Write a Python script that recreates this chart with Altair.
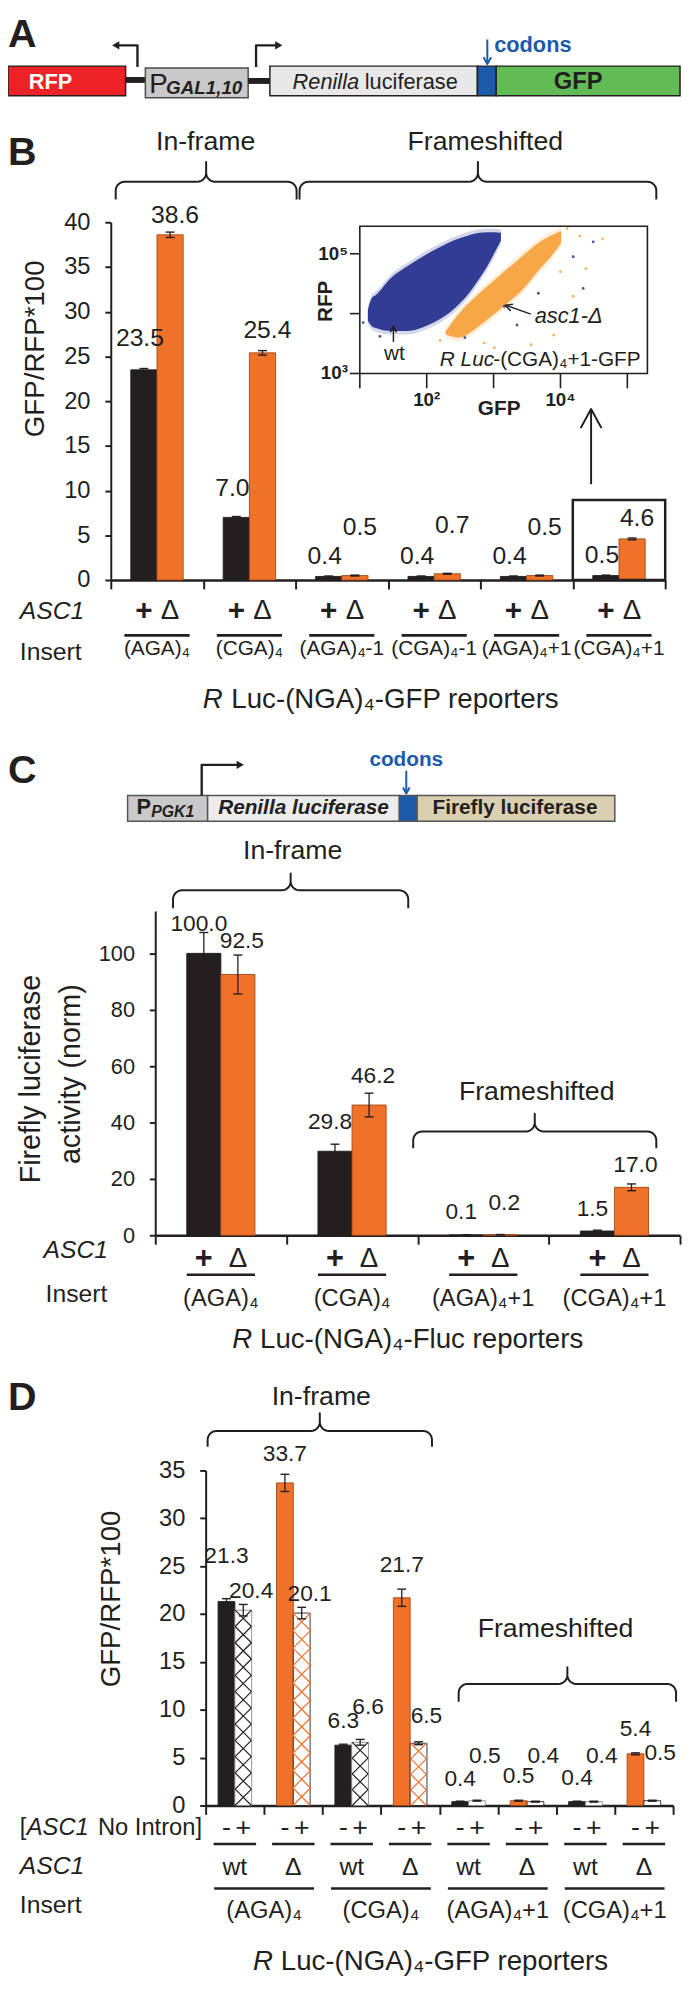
import math
import altair as alt
import numpy as np
import pandas as pd

FONT = "Liberation Sans"
INK = "#231f20"
ORANGE = "#f07128"
ORANGE_EDGE = "#a14a1a"
CODON_BLUE = "#1b5aa9"
FLOW_BLUE = "#28358f"
FLOW_ORANGE = "#f8a33f"

# ------------------------------------------------------------------ data
# Panel B : R Luc-(NGA)4-GFP reporters, GFP/RFP*100
b_inserts = ["(AGA)₄", "(CGA)₄", "(AGA)₄-1", "(CGA)₄-1", "(AGA)₄+1", "(CGA)₄+1"]
b_wt = [23.5, 7.0, 0.4, 0.4, 0.4, 0.5]
b_del = [38.6, 25.4, 0.5, 0.7, 0.5, 4.6]
b_wt_err = [0.15, 0.1, 0.05, 0.05, 0.05, 0.05]
b_del_err = [0.3, 0.25, 0.05, 0.05, 0.05, 0.1]
b_ticks = [0, 5, 10, 15, 20, 25, 30, 35, 40]

# Panel B inset : flow cytometry of R Luc-(CGA)4+1-GFP (log10 units)
flow_x_domain = [1.0, 5.3]
flow_y_domain = [3.0, 5.46]
flow_wt_x = [1.12, 1.18, 1.24, 1.46, 1.72, 1.98, 2.23, 2.42, 2.61, 2.79, 2.91, 3.02, 3.11]
flow_wt_hi = [4.05, 4.26, 4.31, 4.59, 4.80, 4.98, 5.13, 5.23, 5.30, 5.35, 5.36, 5.36, 5.35]
flow_wt_lo = [3.88, 3.79, 3.76, 3.71, 3.71, 3.79, 3.93, 4.09, 4.31, 4.59, 4.80, 5.03, 5.22]
flow_del_x = [2.28, 2.34, 2.49, 2.71, 2.94, 3.20, 3.45, 3.67, 3.87, 4.01]
flow_del_hi = [3.70, 3.79, 4.01, 4.26, 4.49, 4.74, 4.98, 5.18, 5.31, 5.38]
flow_del_lo = [3.66, 3.63, 3.60, 3.73, 3.93, 4.17, 4.42, 4.72, 4.97, 5.18]
flow_wt_sparse_x = [4.19, 4.49, 3.16, 3.35, 4.34, 2.57, 3.67, 1.05, 1.30]
flow_wt_sparse_y = [4.95, 5.20, 4.12, 3.81, 4.42, 3.60, 4.34, 3.85, 3.62]
flow_del_sparse_x = [2.86, 4.19, 4.38, 3.90, 4.29, 3.56, 4.00, 4.63, 3.30, 3.01, 2.20, 4.10]
flow_del_sparse_y = [3.51, 4.29, 4.75, 3.64, 5.30, 3.48, 4.70, 5.25, 3.35, 3.43, 3.55, 5.42]
flow_x_ticks = [1, 2, 3, 4, 5]
flow_x_labels = ["", "10²", "", "10⁴", ""]
flow_y_ticks = [3, 4, 5]
flow_y_labels = ["10³", "", "10⁵"]

# Panel C : R Luc-(NGA)4-Fluc reporters, Firefly luciferase activity (norm)
c_inserts = ["(AGA)₄", "(CGA)₄", "(AGA)₄+1", "(CGA)₄+1"]
c_wt = [100.0, 29.8, 0.1, 1.5]
c_del = [92.5, 46.2, 0.2, 17.0]
c_wt_err = [7.4, 2.5, 0.05, 0.3]
c_del_err = [6.9, 4.2, 0.05, 1.2]
c_ticks = [0, 20, 40, 60, 80, 100]

# Panel D : [ASC1 No Intron] complementation, GFP/RFP*100
d_asc1 = ["wt", "Δ", "wt", "Δ", "wt", "Δ", "wt", "Δ"]
d_inserts = ["(AGA)₄", "(CGA)₄", "(AGA)₄+1", "(CGA)₄+1"]
d_minus = [21.3, 33.7, 6.3, 21.7, 0.4, 0.5, 0.4, 5.4]
d_plus = [20.4, 20.1, 6.6, 6.5, 0.5, 0.4, 0.4, 0.5]
d_minus_err = [0.3, 0.9, 0.1, 0.9, 0.05, 0.05, 0.05, 0.1]
d_plus_err = [0.6, 0.6, 0.3, 0.15, 0.05, 0.05, 0.05, 0.05]
d_ticks = [0, 5, 10, 15, 20, 25, 30, 35]

# ------------------------------------------------------------------ layout (reference page pixels)
PAGE = 8
W, H = 682, 1990
B_BOX = (112, 673, 213, 575)     # left, right, top, bottom of the axis frame
C_BOX = (157, 688, 910, 1238)
D_BOX = (208, 681, 1476, 1815)
B_BAR, C_BAR, D_BAR = 26.5, 34.5, 17.0          # bar widths in px
# label nudges (px above bar top)
b_lift = [32, 30, 21, 21, 21, 21] + [20, 23, 49, 49, 49, 21]
c_lift = [30, 30, 23, 22] + [34, 29, 32, 23]
d_lift = [46, 29, 24, 33, 23, 25, 24, 25] + [19, 19, 36, 27, 45, 46, 46, 48]
X_PATH = "M-1,-1L1,1M1,-1L-1,1"


def gx(v):
    return v - PAGE


def gy(v):
    return v - PAGE


# ------------------------------------------------------------------ helpers (annotation drawing)
def PX():
    return alt.X("x:Q", scale=None)


def PY():
    return alt.Y("y:Q", scale=None)


def T(x, y, s, size=24, weight="normal", style="normal", align="center",
      angle=None, color=INK, baseline="middle"):
    d = pd.DataFrame({"x": [gx(x)], "y": [gy(y)], "t": [s]})
    kw = dict(align=align, baseline=baseline, fontSize=size, fontWeight=weight,
              fontStyle=style, color=color, font=FONT)
    if angle is not None:
        kw["angle"] = angle
    return alt.Chart(d).mark_text(**kw).encode(x=PX(), y=PY(), text="t:N")


def P(pts, width=2.0, color=INK):
    d = pd.DataFrame({"x": [gx(p[0]) for p in pts], "y": [gy(p[1]) for p in pts],
                      "i": list(range(len(pts)))})
    return alt.Chart(d).mark_line(strokeWidth=width, color=color, strokeJoin="round").encode(
        x=PX(), y=PY(), order="i:Q")


def R(x0, y0, x1, y1, fill, stroke=INK, sw=1.5):
    d = pd.DataFrame({"x": [gx(x0)], "x2": [gx(x1)], "y": [gy(y0)], "y2": [gy(y1)]})
    kw = dict(fill=fill)
    if sw:
        kw.update(stroke=stroke, strokeWidth=sw)
    return alt.Chart(d).mark_rect(**kw).encode(x=PX(), x2="x2:Q", y=PY(), y2="y2:Q")


def TRI(x, y, shape, size=70, color=INK):
    d = pd.DataFrame({"x": [gx(x)], "y": [gy(y)]})
    return alt.Chart(d).mark_point(shape=shape, size=size, filled=True, color=color,
                                   opacity=1).encode(x=PX(), y=PY())


def VH(tip, toward, length=9, half=0.5, width=2.0, color=INK):
    dx, dy = toward[0] - tip[0], toward[1] - tip[1]
    n = math.hypot(dx, dy)
    ux, uy = dx / n, dy / n
    arms = []
    for s in (half, -half):
        rx = ux * math.cos(s) - uy * math.sin(s)
        ry = ux * math.sin(s) + uy * math.cos(s)
        arms.append((tip[0] + length * rx, tip[1] + length * ry))
    return P([arms[0], tip, arms[1]], width, color)


def BRACE(x0, x1, yp, yh, ye, r=9, width=2.0):
    xc = (x0 + x1) / 2
    pts = [(x0, ye)]
    for t in np.linspace(np.pi, 1.5 * np.pi, 8):
        pts.append((x0 + r + r * np.cos(t), yh + r + r * np.sin(t)))
    for t in np.linspace(0.5 * np.pi, 0, 8):
        pts.append((xc - r + r * np.cos(t), yh - r + r * np.sin(t)))
    pts.append((xc, yp))
    for t in np.linspace(np.pi, 0.5 * np.pi, 8):
        pts.append((xc + r + r * np.cos(t), yh - r + r * np.sin(t)))
    for t in np.linspace(1.5 * np.pi, 2 * np.pi, 8):
        pts.append((x1 - r + r * np.cos(t), yh + r + r * np.sin(t)))
    pts.append((x1, ye))
    return P(pts, width)


def TICK(df, field, xs, y, size, thickness=2.6):
    return alt.Chart(df).mark_tick(orient="horizontal", size=size, thickness=thickness,
                                   color=INK, opacity=1).encode(
        x=alt.X(field, scale=xs), y=alt.value(gy(y)))


# ------------------------------------------------------------------ grouped bar machinery
def bar_table(first, second, err1, err2, k1, k2, key, box, bar_px, lift, ymax):
    left, right, top, bottom = box
    n = len(first)
    w = bar_px / ((right - left) / n)
    df = pd.DataFrame({"gi": list(range(n)) * 2, "slot": [0] * n + [1] * n,
                       key: [k1] * n + [k2] * n, "v": first + second, "err": err1 + err2})
    df["x0"] = df["gi"] + 0.5 - w + df["slot"] * w
    df["x1"] = df["x0"] + w
    df["xc"] = (df["x0"] + df["x1"]) / 2
    df["lo"] = df["v"] - df["err"]
    df["hi"] = df["v"] + df["err"]
    df["txt"] = df["v"].map("{:.1f}".format)
    df["ly"] = df["v"] + np.array(lift) * ymax / (bottom - top)
    return df


def scales(box, n, ymax):
    left, right, top, bottom = box
    xs = alt.Scale(domain=[0, n], range=[gx(left), gx(right)], nice=False, zero=False)
    ys = alt.Scale(domain=[0, ymax], range=[gy(bottom), gy(top)], nice=False, zero=True)
    return xs, ys


def grouped(df, box, xs, ys, yvals, ysize, label_size, dx1, dx2, key, k1):
    left, right, top, bottom = box
    n = int(xs.domain[1])
    base = alt.Chart(df)
    xax = alt.Axis(orient="bottom", offset=-(H - gy(bottom)), values=list(range(n + 1)),
                   labels=False, title=None, grid=False, tickSize=9, tickWidth=2,
                   domainWidth=2.6, domainColor=INK, tickColor=INK)
    yax = alt.Axis(orient="left", offset=-gx(left), values=yvals, format="d", title=None,
                   grid=False, tickSize=6, tickWidth=2, domainWidth=2, labelFontSize=ysize,
                   labelPadding=15, labelColor=INK, labelFont=FONT, domainColor=INK,
                   tickColor=INK)
    bars = base.mark_bar(strokeWidth=0.9).encode(
        x=alt.X("x0:Q", scale=xs, axis=xax), x2="x1:Q",
        y=alt.Y("v:Q", scale=ys, axis=yax), y2=alt.datum(0),
        fill=alt.Fill("fc:N", scale=None), stroke=alt.Stroke("sc:N", scale=None))
    err = base.mark_rule(color=INK, strokeWidth=1.3).encode(
        x=alt.X("xc:Q", scale=xs), y=alt.Y("lo:Q", scale=ys), y2="hi:Q")
    cap_hi = base.mark_tick(orient="horizontal", size=9, thickness=1.4, color=INK, opacity=1).encode(
        x=alt.X("xc:Q", scale=xs), y=alt.Y("hi:Q", scale=ys))
    cap_lo = base.mark_tick(orient="horizontal", size=9, thickness=1.4, color=INK, opacity=1).encode(
        x=alt.X("xc:Q", scale=xs), y=alt.Y("lo:Q", scale=ys))
    lab1 = base.transform_filter(alt.datum[key] == k1).mark_text(
        fontSize=label_size, dx=dx1, font=FONT, color=INK, baseline="middle").encode(
        x=alt.X("xc:Q", scale=xs), y=alt.Y("ly:Q", scale=ys), text="txt:N")
    lab2 = base.transform_filter(alt.datum[key] != k1).mark_text(
        fontSize=label_size, dx=dx2, font=FONT, color=INK, baseline="middle").encode(
        x=alt.X("xc:Q", scale=xs), y=alt.Y("ly:Q", scale=ys), text="txt:N")
    return bars, [err, cap_hi, cap_lo, lab1, lab2]


# ------------------------------------------------------------------ panel A (construct schematic)
panelA = alt.layer(
    T(8, 24, "A", 40, "bold", align="left"),
    R(8, 55, 127, 85, "#ec2227"),
    R(127, 66, 147, 72, INK, sw=0),
    R(147, 57, 251, 87, "#c9c9c9", stroke="#4d4d4d"),
    R(251, 67, 273, 73, INK, sw=0),
    R(273, 55, 483, 85, "#e8e8e8"),
    R(483, 55, 502, 85, CODON_BLUE),
    R(502, 55, 688, 85, "#62bb55"),
    T(51, 71, "RFP", 22, "bold", color="white"),
    T(151, 82, "P", 28, align="left", baseline="alphabetic"),
    T(168, 83, "GAL1,10", 19, "bold", "italic", align="left", baseline="alphabetic"),
    T(296, 71, "Renilla", 22, style="italic", align="left"),
    T(369, 71, "luciferase", 22, align="left"),
    T(585, 71, "GFP", 24, "bold"),
    T(500, 34, "codons", 22, "bold", color=CODON_BLUE, align="left"),
    P([(139, 56), (139, 34), (119, 34)], 2.4),
    TRI(117, 34, "triangle-left"),
    P([(259, 56), (259, 34), (279, 34)], 2.4),
    TRI(282, 34, "triangle-right"),
    P([(493, 28), (493, 52)], 2.0, CODON_BLUE),
    VH((493, 53), (493, 40), 8, 0.5, 2.0, CODON_BLUE),
)

# ------------------------------------------------------------------ panel B
nB = len(b_inserts)
dfB = bar_table(b_wt, b_del, b_wt_err, b_del_err, "+", "Δ", "geno", B_BOX, B_BAR, b_lift, 40)
dfB["fc"] = np.where(dfB["geno"] == "+", INK, ORANGE)
dfB["sc"] = np.where(dfB["geno"] == "+", INK, ORANGE_EDGE)
xsB, ysB = scales(B_BOX, nB, 40)
barsB, restB = grouped(dfB, B_BOX, xsB, ysB, b_ticks, 24, 25, -4, 5, "geno", "+")

dfBG = pd.DataFrame({"gi": list(range(nB)), "ins": b_inserts})
dfBG["gc"] = dfBG["gi"] + 0.5
dfBG["g1"] = dfBG["gi"] + 1
baseB = alt.Chart(dfB)
restB += [
    baseB.transform_filter(alt.datum.geno == "+").mark_text(fontSize=30, fontWeight="bold", font=FONT, color=INK).encode(
        x=alt.X("xc:Q", scale=xsB), y=alt.value(gy(606)), text="geno:N"),
    baseB.transform_filter(alt.datum.geno == "Δ").mark_text(fontSize=28, font=FONT, color=INK).encode(
        x=alt.X("xc:Q", scale=xsB), y=alt.value(gy(606)), text="geno:N"),
    TICK(dfBG, "gc:Q", xsB, 631, 66),
    alt.Chart(dfBG).mark_text(fontSize=21, font=FONT, color=INK).encode(
        x=alt.X("gc:Q", scale=xsB), y=alt.value(gy(645)), text="ins:N"),
    alt.Chart(dfBG).transform_filter(alt.datum.gi == nB - 1).mark_rect(
        fillOpacity=0, stroke=INK, strokeWidth=2.5).encode(
        x=alt.X("gi:Q", scale=xsB), x2="g1:Q", y=alt.value(gy(494)), y2=alt.value(gy(575))),
    T(8, 143, "B", 40, "bold", align="left"),
    T(208, 132, "In-frame", 27),
    T(491, 132, "Frameshifted", 27),
    BRACE(117, 300, 152, 172, 190),
    BRACE(303, 664, 152, 172, 190),
    T(36, 341, "GFP/RFP*100", 28, angle=270),
    T(20, 606, "ASC1", 25, style="italic", align="left"),
    T(20, 648, "Insert", 25, align="left"),
    T(205, 696, "R", 28, style="italic", align="left"),
    T(234, 696, "Luc-(NGA)₄-GFP reporters", 28, align="left"),
    P([(598, 478), (598, 403)], 2.0),
    VH((598, 402), (598, 430), 22, 0.5, 2.0),
]
mainB = alt.layer(barsB, *restB)

# inset (flow cytometry)
ixs = alt.Scale(domain=flow_x_domain, range=[gx(364), gx(655)], nice=False, zero=False)
iys = alt.Scale(domain=flow_y_domain, range=[gy(366), gy(217)], nice=False, zero=False)
dfFrame = pd.DataFrame({"x0": [flow_x_domain[0]], "x1": [flow_x_domain[1]],
                        "y0": [flow_y_domain[0]], "y1": [flow_y_domain[1]]})
dfCloud = pd.DataFrame({"gx": flow_wt_x + flow_del_x, "hi": flow_wt_hi + flow_del_hi,
                        "lo": flow_wt_lo + flow_del_lo,
                        "cloud": ["wt"] * len(flow_wt_x) + ["asc1"] * len(flow_del_x)})
dfCloud["col"] = np.where(dfCloud["cloud"] == "wt", FLOW_BLUE, FLOW_ORANGE)
dfCloud["hi2"] = dfCloud["hi"] + 0.06
dfCloud["lo2"] = dfCloud["lo"] - 0.06
dfDots = pd.DataFrame({"gx": flow_wt_sparse_x + flow_del_sparse_x,
                       "gy": flow_wt_sparse_y + flow_del_sparse_y,
                       "col": [FLOW_BLUE] * len(flow_wt_sparse_x) + [FLOW_ORANGE] * len(flow_del_sparse_x)})
dfXT = pd.DataFrame({"t": flow_x_ticks, "lab": flow_x_labels})
dfYT = pd.DataFrame({"t": flow_y_ticks, "lab": flow_y_labels})


def IX(f):
    return alt.X(f, scale=ixs, axis=None)


def IY(f):
    return alt.Y(f, scale=iys, axis=None)


insetB = alt.layer(
    alt.Chart(dfFrame).mark_rect(fill="white", stroke=INK, strokeWidth=1.6).encode(
        x=IX("x0:Q"), x2="x1:Q", y=IY("y0:Q"), y2="y1:Q"),
    alt.Chart(dfCloud).mark_area(opacity=0.2, interpolate="monotone").encode(
        x=IX("gx:Q"), y=IY("hi2:Q"), y2="lo2:Q", color=alt.Color("col:N", scale=None), detail="cloud:N"),
    alt.Chart(dfCloud).mark_area(opacity=0.95, interpolate="monotone").encode(
        x=IX("gx:Q"), y=IY("hi:Q"), y2="lo:Q", color=alt.Color("col:N", scale=None), detail="cloud:N"),
    alt.Chart(dfDots).mark_circle(size=8, opacity=0.85).encode(
        x=IX("gx:Q"), y=IY("gy:Q"), color=alt.Color("col:N", scale=None)),
    alt.Chart(dfXT).mark_rule(color=INK, strokeWidth=1.6).encode(
        x=IX("t:Q"), y=alt.value(gy(366)), y2=alt.value(gy(381))),
    alt.Chart(dfYT).mark_rule(color=INK, strokeWidth=1.6).encode(
        y=IY("t:Q"), x=alt.value(gx(354)), x2=alt.value(gx(364))),
    alt.Chart(dfXT).mark_text(fontSize=19, fontWeight="bold", font=FONT, color=INK).encode(
        x=IX("t:Q"), y=alt.value(gy(393)), text="lab:N"),
    alt.Chart(dfYT).mark_text(fontSize=19, fontWeight="bold", font=FONT, color=INK, align="right").encode(
        y=IY("t:Q"), x=alt.value(gx(352)), text="lab:N"),
)

annoInset = alt.layer(
    T(330, 293, "RFP", 21, "bold", angle=270),
    T(505, 402, "GFP", 21, "bold"),
    T(399, 346, "wt", 21),
    P([(398, 334), (398, 319)], 1.5),
    VH((398, 318), (398, 330), 7, 0.45, 1.5),
    T(541, 308, "asc1-Δ", 22, style="italic", align="left"),
    P([(537, 306), (512, 297)], 1.5),
    VH((511, 297), (537, 306), 8, 0.45, 1.5),
    T(445, 352, "R Luc", 21, style="italic", align="left"),
    T(499, 352, "-(CGA)₄+1-GFP", 21, align="left"),
)

# ------------------------------------------------------------------ panel C
nC = len(c_inserts)
dfC = bar_table(c_wt, c_del, c_wt_err, c_del_err, "+", "Δ", "geno", C_BOX, C_BAR, c_lift, 115)
dfC["fc"] = np.where(dfC["geno"] == "+", INK, ORANGE)
dfC["sc"] = np.where(dfC["geno"] == "+", INK, ORANGE_EDGE)
xsC, ysC = scales(C_BOX, nC, 115)
barsC, restC = grouped(dfC, C_BOX, xsC, ysC, c_ticks, 22, 23, -5, 4, "geno", "+")
dfCG = pd.DataFrame({"gi": list(range(nC)), "ins": c_inserts})
dfCG["gc"] = dfCG["gi"] + 0.5
baseC = alt.Chart(dfC)
restC += [
    baseC.transform_filter(alt.datum.geno == "+").mark_text(fontSize=31, fontWeight="bold", font=FONT, color=INK).encode(
        x=alt.X("xc:Q", scale=xsC), y=alt.value(gy(1262)), text="geno:N"),
    baseC.transform_filter(alt.datum.geno == "Δ").mark_text(fontSize=28, font=FONT, color=INK).encode(
        x=alt.X("xc:Q", scale=xsC), y=alt.value(gy(1262)), text="geno:N"),
    TICK(dfCG, "gc:Q", xsC, 1278, 69),
    alt.Chart(dfCG).mark_text(fontSize=24, font=FONT, color=INK).encode(
        x=alt.X("gc:Q", scale=xsC), y=alt.value(gy(1303)), text="ins:N"),
    T(8, 768, "C", 40, "bold", align="left"),
    R(129, 793, 210, 819, "#c9c9c9", stroke="#555555"),
    R(210, 793, 404, 819, "#ececec", stroke="#555555"),
    R(404, 793, 422, 819, CODON_BLUE, stroke="#555555"),
    R(422, 793, 622, 819, "#d9cfb1", stroke="#555555"),
    T(138, 812, "P", 22, "bold", align="left", baseline="alphabetic"),
    T(153, 815, "PGK1", 16, "bold", "italic", align="left", baseline="alphabetic"),
    T(307, 806, "Renilla luciferase", 21, "bold", "italic"),
    T(521, 806, "Firefly luciferase", 21, "bold"),
    P([(204, 793), (204, 762), (240, 762)], 2.4),
    TRI(243, 762, "triangle-right"),
    T(411, 757, "codons", 21, "bold", color=CODON_BLUE),
    P([(411, 768), (411, 790)], 2.0, CODON_BLUE),
    VH((411, 791), (411, 780), 7, 0.5, 2.0, CODON_BLUE),
    T(296, 849, "In-frame", 27),
    BRACE(175, 413, 872, 889, 907),
    T(543, 1093, "Frameshifted", 27),
    BRACE(418, 664, 1115, 1133, 1150),
    T(31, 1080, "Firefly luciferase", 29, angle=270),
    T(72, 1075, "activity (norm)", 29, angle=270),
    T(44, 1253, "ASC1", 25, style="italic", align="left"),
    T(46, 1298, "Insert", 25, align="left"),
    T(235, 1344, "R", 28, style="italic", align="left"),
    T(263, 1344, "Luc-(NGA)₄-Fluc reporters", 28, align="left"),
]
mainC = alt.layer(barsC, *restC)

# ------------------------------------------------------------------ panel D
nD = len(d_asc1)
dfD = bar_table(d_minus, d_plus, d_minus_err, d_plus_err, "-", "+", "noi", D_BOX, D_BAR, d_lift, 35)
dfD["asc1"] = d_asc1 * 2
is_minus = dfD["noi"] == "-"
is_wt = dfD["asc1"] == "wt"
dfD["fc"] = np.where(is_minus, np.where(is_wt, INK, ORANGE), "white")
dfD["sc"] = np.where(is_minus, np.where(is_wt, INK, ORANGE_EDGE), np.where(is_wt, "#8a8a8a", INK))
xsD, ysD = scales(D_BOX, nD, 35)
barsD, restD = grouped(dfD, D_BOX, xsD, ysD, d_ticks, 24, 23, 0, 8, "noi", "-")

# cross-hatch texture of the "+" (no-intron ASC1) bars
ppuD = (D_BOX[3] - D_BOX[2]) / 35
hatch_rows = []
for _, r in dfD[dfD["noi"] == "+"].iterrows():
    hpx = r["v"] * ppuD
    n = int(round(hpx / D_BAR))
    if n >= 1:
        s = hpx / n
        for k in range(n):
            hatch_rows.append({"xc": r["xc"], "yc": (k + 0.5) * s / ppuD, "sz": s * s,
                               "hc": INK if r["asc1"] == "wt" else ORANGE})
dfHatch = pd.DataFrame(hatch_rows)
hatch = alt.Chart(dfHatch).mark_point(shape=X_PATH, filled=False, strokeWidth=1.2, opacity=1).encode(
    x=alt.X("xc:Q", scale=xsD), y=alt.Y("yc:Q", scale=ysD),
    size=alt.Size("sz:Q", scale=None), color=alt.Color("hc:N", scale=None))

dfDG = pd.DataFrame({"gi": list(range(nD)), "asc1": d_asc1})
dfDG["gc"] = dfDG["gi"] + 0.5
dfDP = pd.DataFrame({"px": [1, 3, 5, 7], "ins": d_inserts})
baseD = alt.Chart(dfD)
restD += [
    baseD.mark_text(fontSize=27, font=FONT, color=INK).encode(
        x=alt.X("xc:Q", scale=xsD), y=alt.value(gy(1838)), text="noi:N"),
    TICK(dfDG, "gc:Q", xsD, 1854, 43),
    alt.Chart(dfDG).mark_text(fontSize=25, font=FONT, color=INK).encode(
        x=alt.X("gc:Q", scale=xsD), y=alt.value(gy(1877)), text="asc1:N"),
    TICK(dfDP, "px:Q", xsD, 1899, 101),
    alt.Chart(dfDP).mark_text(fontSize=24, font=FONT, color=INK).encode(
        x=alt.X("px:Q", scale=xsD), y=alt.value(gy(1922)), text="ins:N"),
    T(8, 1403, "D", 40, "bold", align="left"),
    T(325, 1402, "In-frame", 27),
    BRACE(210, 437, 1418, 1436, 1452),
    T(562, 1637, "Frameshifted", 27),
    BRACE(464, 684, 1675, 1692, 1710),
    T(113, 1606, "GFP/RFP*100", 28, angle=270),
    T(20, 1838, "[", 24, align="left"),
    T(27, 1838, "ASC1", 24, style="italic", align="left"),
    T(99, 1838, "No Intron]", 24, align="left"),
    T(20, 1876, "ASC1", 25, style="italic", align="left"),
    T(20, 1916, "Insert", 25, align="left"),
    T(256, 1973, "R", 28, style="italic", align="left"),
    T(284, 1973, "Luc-(NGA)₄-GFP reporters", 28, align="left"),
]
mainD = alt.layer(barsD, hatch, *restD)

# ------------------------------------------------------------------ assemble (one canvas, panel scales independent)
chart = alt.layer(panelA, mainB, insetB, annoInset, mainC, mainD).resolve_scale(
    x="independent", y="independent"
).properties(
    width=W, height=H, padding=0, autosize=alt.AutoSizeParams(type="none")
).configure(font=FONT).configure_view(stroke=None)

chart.save("out.html", embed_options={"renderer": "svg", "actions": False})
